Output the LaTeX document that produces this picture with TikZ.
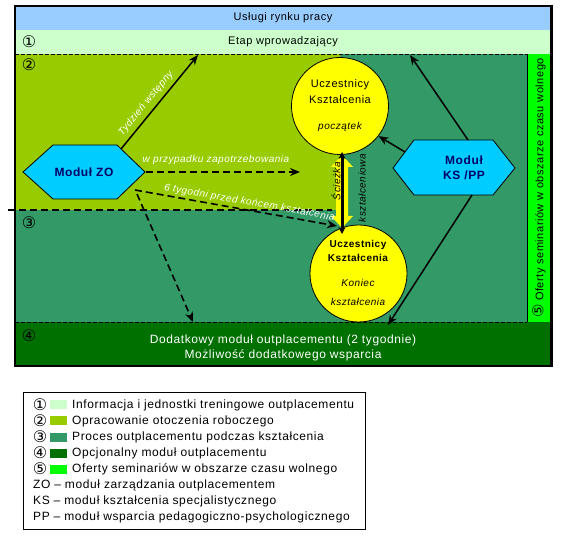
\documentclass[tikz,border=0pt]{standalone}
\usepackage{fontspec}
\setmainfont{Liberation Sans}[LetterSpace=5]
\newfontfamily\symfont{DejaVu Sans}
\usetikzlibrary{arrows.meta}
\definecolor{cblue}{HTML}{99CCFF}
\definecolor{cpale}{HTML}{CCFFCC}
\definecolor{colive}{HTML}{99CC00}
\definecolor{cteal}{HTML}{339966}
\definecolor{cdark}{HTML}{007000}
\definecolor{clime}{HTML}{00FF00}
\definecolor{ccyan}{HTML}{00CCFF}
\definecolor{cnavy}{HTML}{000066}
\definecolor{cyell}{HTML}{FFFF00}
\newcommand\myfs[1]{\fontsize{#1}{#1}\selectfont}
\tikzset{
  txt/.style={inner sep=0pt, font=\myfs{11}},
  lbl/.style={inner sep=0pt, font=\myfs{10}\itshape, text=white},
  num/.style={inner sep=0pt, font=\symfont\myfs{16}},
  hexa/.style={draw=black, fill=ccyan, line width=0.8pt},
  modtxt/.style={inner sep=0pt, font=\myfs{12}\bfseries, text=cnavy, align=center},
  bubble/.style={circle, draw=black, fill=cyell, line width=0.8pt, minimum size=97pt, inner sep=0pt},
  arr/.style={line width=1.5pt, -{Stealth[length=10pt,width=8pt]}},
  darr/.style={line width=1.6pt, dash pattern=on 7pt off 4pt, -{Stealth[length=10pt,width=8pt]}},
  legtxt/.style={inner sep=0pt, anchor=west, font=\myfs{12}},
  swatch/.style={minimum width=17pt, minimum height=9pt, inner sep=0pt},
}
\begin{document}
\begin{tikzpicture}[x=1pt,y=-1pt]
\useasboundingbox (0,0) rectangle (568,545);
\fill[white] (0,0) rectangle (568,545);
% bands
\fill[cblue] (15,6) rectangle (551,30);
\fill[cpale] (15,30) rectangle (551,54);
\fill[cteal] (15,54) rectangle (527,322);
\fill[colive] (15,54) rectangle (340,210);
\fill[clime] (527,54) rectangle (551,322);
\fill[cdark] (15,322) rectangle (551,366);
\draw[line width=0.6pt] (527,54) -- (527,322);
\draw[line width=0.7pt, dash pattern=on 4pt off 2pt] (15,54) -- (527,54);
\draw[line width=0.7pt, dash pattern=on 4pt off 2pt] (15,322) -- (527,322);
\draw[line width=1.6pt, dash pattern=on 7pt off 4pt] (8,210) -- (332,210);
\draw[line width=1.2pt] (15,6) rectangle (551,366);
\draw[line width=3pt] (551.5,5) -- (551.5,367);
% band texts
\node[txt] (usl) at (283,18) {Usługi rynku pracy};
\node[txt] (etap) at (283,42) {Etap wprowadzający};
\node[num] (n1) at (29,42) {①};
\node[num] (n2) at (29,65) {②};
\node[num] (n3) at (29,223) {③};
\node[num] (n4) at (29,336) {④};
\node[txt, rotate=90] (ofe) at (539,188) {{\symfont\myfs{15}⑤} Oferty seminariów w obszarze czasu wolnego};
\node[txt, text=white, font=\myfs{12}] (dod1) at (283,340) {Dodatkowy moduł outplacementu (2 tygodnie)};
\node[txt, text=white, font=\myfs{12}] (dod2) at (283,355) {Możliwość dodatkowego wsparcia};
% pathway double arrow
\coordinate (sT) at (342,155);
\coordinate (sB) at (342,228);
\fill[cyell] (sT) -- (353,167) -- (348,167) -- (348,216) -- (353,216) -- (sB)
  -- (331,216) -- (336,216) -- (336,167) -- (331,167) -- cycle;
% circles
\node[bubble] (c1) at (340,106) {};
\node[bubble] (c2) at (358.5,273.5) {};
\draw[line width=3pt, {Stealth[length=7pt,width=7pt]}-{Stealth[length=7pt,width=7pt]}] ([yshift=3pt]sT) -- ([yshift=-6pt]sB);
\node[txt, font=\myfs{10}\itshape, rotate=90] (sc1) at (336,181) {Ścieżka};
\node[txt, font=\myfs{10}\itshape, rotate=90] (sc2) at (362,188) {kształceniowa};
\node[txt] (c1a) at (340,85) {Uczestnicy};
\node[txt] (c1b) at (340,100) {Kształcenia};
\node[txt, font=\myfs{10}\itshape] (c1c) at (340,127) {początek};
\node[txt, font=\myfs{10}\bfseries] (c2a) at (358,245) {Uczestnicy};
\node[txt, font=\myfs{10}\bfseries] (c2b) at (358,258) {Kształcenia};
\node[txt, font=\myfs{10}\itshape] (c2c) at (358,283) {Koniec};
\node[txt, font=\myfs{10}\itshape] (c2d) at (358,302) {kształcenia};
% hexagons
\draw[hexa] (23,172) -- (53,145) -- (117,145) -- (145,172) -- (117,199) -- (53,199) -- cycle;
\node[modtxt] (zo) at (84,172) {Moduł ZO};
\draw[hexa] (393,168) -- (414,140) -- (493,140) -- (515,168) -- (493,195) -- (414,195) -- cycle;
\node[modtxt] (ks) at (464,168) {Moduł\\[3pt]KS /PP};
% anchors
\coordinate (zoNE) at (121,149);
\coordinate (zoE) at (146,172);
\coordinate (zoSE) at (135,190);
\coordinate (zoS) at (137,194);
\coordinate (ksW) at (405,152);
\coordinate (ksN) at (468,140);
\coordinate (ksS) at (472,195);
\coordinate (etapA) at (198,55);
\coordinate (etapB) at (410,55);
\coordinate (wpEnd) at (300,172);
\coordinate (tgEnd) at (337,226);
\coordinate (r4A) at (193,322);
\coordinate (r4B) at (388,325);
% connectors
\draw[arr] (zoNE) -- node[lbl, pos=0.42, sloped, above=4pt] (tw) {Tydzień wstępny} (etapA);
\draw[darr] (zoE) -- (wpEnd);
\node[lbl] (wp) at (216,160) {w przypadku zapotrzebowania};
\draw[darr] (zoSE) -- node[lbl, pos=0.56, sloped, above=2pt] (tg) {6 tygodni przed końcem kształcenia} (tgEnd);
\draw[darr] (zoS) -- (r4A);
\draw[arr] (ksW) -- (c1.-38);
\draw[arr] (ksN) -- (etapB);
\draw[arr] (ksS) -- (r4B);
% legend
\draw[line width=0.8pt, fill=white] (23,392) rectangle (365,529);
\foreach \i/\d/\c/\t in {0/①/cpale/Informacja i jednostki treningowe outplacementu,
                         1/②/colive/Opracowanie otoczenia roboczego,
                         2/③/cteal/Proces outplacementu podczas kształcenia,
                         3/④/cdark/Opcjonalny moduł outplacementu,
                         4/⑤/clime/Oferty seminariów w obszarze czasu wolnego}{
  \node[num, font=\symfont\myfs{16}] (ln\i) at (40,405+16*\i) {\d};
  \node[swatch, fill=\c] (ls\i) at (58.5,405+16*\i) {};
  \node[legtxt] (lt\i) at (72,405+16*\i) {\t};
}
\node[legtxt] (lzo) at (33,485) {ZO – moduł zarządzania outplacementem};
\node[legtxt] (lks) at (33,501) {KS – moduł kształcenia specjalistycznego};
\node[legtxt] (lpp) at (33,517) {PP – moduł wsparcia pedagogiczno-psychologicznego};
\end{tikzpicture}
\end{document}
